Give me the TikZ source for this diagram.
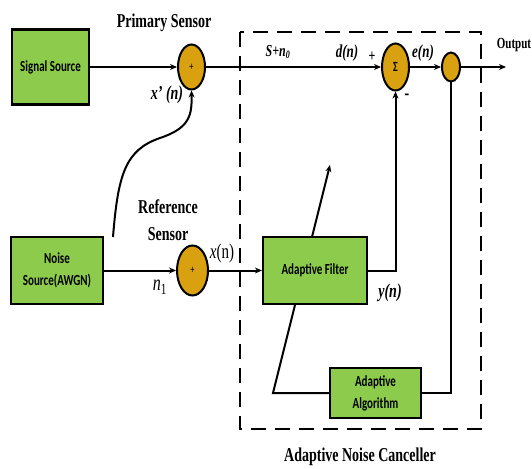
\documentclass[tikz,border=0pt]{standalone}
\usepackage{fontspec}
\setmainfont{Liberation Serif}
\newfontfamily\boxfont{Carlito}
\usepackage{graphicx}
\usetikzlibrary{shapes.geometric,arrows.meta}
\newcommand\tallx[1]{\scalebox{1}[1.4]{#1}}
\definecolor{boxgreen}{HTML}{8CCB4B}
\definecolor{sumorange}{HTML}{D9A010}
\begin{document}
\begin{tikzpicture}[x=1pt,y=-1pt,
  block/.style={draw=black, line width=2.2pt, fill=boxgreen, inner sep=0pt, align=center,
    font=\boxfont\bfseries\fontsize{11}{15.5}\selectfont},
  sumnode/.style={ellipse, draw=black, line width=2pt, fill=sumorange, inner sep=0pt},
  conn/.style={line width=2pt},
  arr/.style={conn, -{Stealth[length=7pt,width=6pt]}},
  lbl/.style={inner sep=0pt, font=\bfseries\fontsize{14}{16}\selectfont},
  mlbl/.style={inner sep=0pt, font=\bfseries\itshape\fontsize{13}{15}\selectfont},
  anc/.style={line width=2.5pt, dash pattern=on 15pt off 9pt}
]
\useasboundingbox (0,0) rectangle (532,468);
% dashed canceller frame
\draw[anc] (240,32) rectangle (481,429);

% blocks
\node[block, minimum width=77pt, minimum height=75pt] (sig) at (50.5,67) {\tallx{Signal Source}};
\node[block, minimum width=92pt, minimum height=67pt] (noise) at (57,270.5)
  {\tallx{\begin{tabular}{@{}c@{}}Noise\\Source(AWGN)\end{tabular}}};
\node[sumnode, minimum width=27pt, minimum height=45pt] (padd) at (191.5,67)
  {\tallx{\fontsize{8}{8}\selectfont\bfseries +}};
\node[sumnode, minimum width=31pt, minimum height=50pt] (radd) at (192.5,270.5)
  {\tallx{\fontsize{8}{8}\selectfont\bfseries +}};
\node[sumnode, minimum width=27pt, minimum height=47pt] (sigma) at (395.5,67)
  {\tallx{\boxfont\bfseries\fontsize{10}{10}\selectfont Σ}};
\node[sumnode, minimum width=18pt, minimum height=29pt] (outc) at (451,67) {};
\node[block, minimum width=91pt, minimum height=50pt] (alg) at (375.5,393)
  {\tallx{\begin{tabular}{@{}c@{}}Adaptive\\Algorithm\end{tabular}}};
\coordinate (bend) at (273,393);
\coordinate (tip) at (330,165);
\draw[arr] (alg.west) -- (bend) -- (tip);
\node[block, minimum width=104pt, minimum height=67pt] (filt) at (315,270.5) {\tallx{Adaptive Filter}};

% connectors
\draw[arr] (sig.east) -- (padd.west);
\draw[arr] (padd.east) -- (sigma.west);
\draw[arr] (sigma.east) -- (outc.west);
\coordinate (outend) at (506,67);
\draw[arr] (outc.east) -- (outend);
\draw[arr] (noise.east) -- (radd.west);
\draw[arr] (radd.east) -- (filt.west);
\draw[arr] (filt.east) -| (sigma.south);
\draw[conn] (alg.east) -| (outc.south);
\coordinate (cstart) at (113,237);
\draw[arr] (cstart) .. controls (118,175) and (125,150) .. (160,138)
  .. controls (190,128) and (192,115) .. (padd.south);

% labels
\node[lbl] (lprim) at (164,23) {\tallx{Primary Sensor}};
\node[lbl] (lref1) at (168,207) {\tallx{Reference}};
\node[lbl] (lref2) at (168,234) {\tallx{Sensor}};
\node[lbl] (lanc) at (360,457) {\tallx{Adaptive Noise Canceller}};
\node[lbl, font=\bfseries\fontsize{11}{13}\selectfont] (lout) at (514,45) {\tallx{Output}};
\node[mlbl, font=\bfseries\itshape\fontsize{14}{16}\selectfont] (lxp) at (167,95) {\tallx{x' (n)}};
\node[inner sep=0pt, font=\itshape\fontsize{16}{18}\selectfont] (ln1) at (160,287) {\tallx{n\textsubscript{\upshape 1}}};
\node[inner sep=0pt, font=\fontsize{15}{17}\selectfont] (lxn) at (222,253) {\tallx{\itshape x\upshape(n)}};
\node[mlbl, font=\bfseries\itshape\fontsize{12}{14}\selectfont] (lsn) at (278,52) {\tallx{S+n\textsubscript{0}}};
\node[mlbl] (ldn) at (347,53) {\tallx{d(n)}};
\node[lbl, font=\bfseries\fontsize{12}{14}\selectfont] (lplus) at (372,57) {\tallx{+}};
\node[mlbl] (len) at (423,53) {\tallx{e(n)}};
\node[lbl] (lminus) at (407,97) {\tallx{-}};
\node[mlbl, font=\bfseries\itshape\fontsize{14}{16}\selectfont] (lyn) at (390,293) {\tallx{y(n)}};
\end{tikzpicture}
\end{document}
